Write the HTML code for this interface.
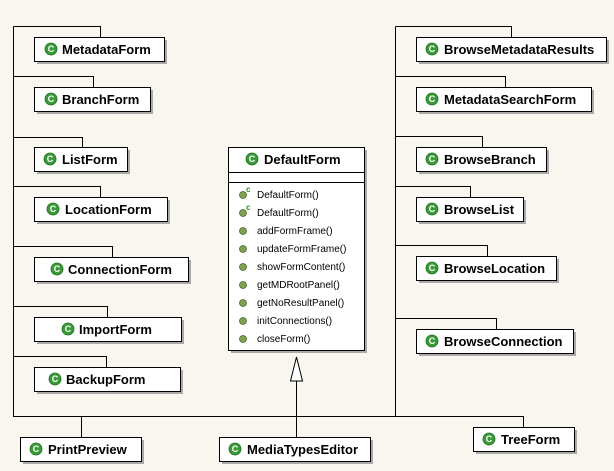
<!DOCTYPE html>
<html><head><style>
html,body{margin:0;padding:0;background:#f8f6ee;}
svg{display:block;}
.c{font-family:"Liberation Sans",sans-serif;font-weight:bold;font-size:13px;fill:#000;}
.m{font-family:"Liberation Sans",sans-serif;font-size:10px;fill:#000;}
.ic{font-family:"Liberation Sans",sans-serif;font-weight:bold;font-size:9px;fill:#fff;}
</style></head><body>
<svg width="614" height="471" viewBox="0 0 614 471" xmlns="http://www.w3.org/2000/svg">
<rect width="614" height="471" fill="#f8f6ee"/>
<g stroke="#000" stroke-width="1" fill="none" shape-rendering="crispEdges">
<path d="M13.5 26.5V416.5H523.5V427"/>
<path d="M13.5 26.5H100.5V37"/>
<path d="M13.5 76.5H93.5V87"/>
<path d="M13.5 137.5H82.5V147"/>
<path d="M13.5 186.5H100.5V197"/>
<path d="M13.5 246.5H112.5V257"/>
<path d="M13.5 306.5H107.5V317"/>
<path d="M13.5 356.5H106.5V367"/>
<path d="M81.5 416.5V437"/>
<path d="M296.5 381V437"/>
<path d="M395.5 26.5V416.5"/>
<path d="M395.5 26.5H511.5V37"/>
<path d="M395.5 76.5H505.5V87"/>
<path d="M395.5 136.5H482.5V147"/>
<path d="M395.5 186.5H470.5V197"/>
<path d="M395.5 245.5H487.5V256"/>
<path d="M395.5 318.5H496.5V329"/>
</g>
<polygon points="296.5,357 290.5,381 302.5,381" fill="#fff" stroke="#000"/>
<defs>
<g id="ci"><circle r="6" fill="#3a9a3a" stroke="#1e6e1e" stroke-width="0.8"/><text class="ic" x="0" y="3.2" text-anchor="middle">C</text></g>
</defs>
<g fill="#aaa">
<rect x="37" y="40" width="130" height="24"/><rect x="37" y="90" width="116" height="24"/>
<rect x="37" y="150" width="93" height="24"/><rect x="37" y="200" width="133" height="24"/>
<rect x="37" y="260" width="154" height="24"/><rect x="37" y="320" width="147" height="24"/>
<rect x="37" y="370" width="146" height="24"/>
<rect x="23" y="440" width="121" height="24"/><rect x="222" y="440" width="151" height="24"/>
<rect x="476" y="430" width="101" height="24"/>
<rect x="419" y="40" width="190" height="24"/><rect x="419" y="90" width="175" height="24"/>
<rect x="419" y="150" width="130" height="24"/><rect x="419" y="200" width="107" height="24"/>
<rect x="419" y="259" width="140" height="24"/><rect x="419" y="332" width="157" height="24"/>
<rect x="231" y="150" width="136" height="203"/>
</g>
<g fill="#fff" stroke="#000" shape-rendering="crispEdges">
<rect x="34.5" y="37.5" width="130" height="24"/><rect x="34.5" y="87.5" width="116" height="24"/>
<rect x="34.5" y="147.5" width="93" height="24"/><rect x="34.5" y="197.5" width="133" height="24"/>
<rect x="34.5" y="257.5" width="154" height="24"/><rect x="34.5" y="317.5" width="147" height="24"/>
<rect x="34.5" y="367.5" width="146" height="24"/>
<rect x="20.5" y="437.5" width="121" height="24"/><rect x="219.5" y="437.5" width="151" height="24"/>
<rect x="473.5" y="427.5" width="101" height="24"/>
<rect x="416.5" y="37.5" width="190" height="24"/><rect x="416.5" y="87.5" width="175" height="24"/>
<rect x="416.5" y="147.5" width="130" height="24"/><rect x="416.5" y="197.5" width="107" height="24"/>
<rect x="416.5" y="256.5" width="140" height="24"/><rect x="416.5" y="329.5" width="157" height="24"/>
<rect x="228.5" y="147.5" width="136" height="203"/>
<path d="M228.5 172.5H364.5M228.5 182.5H364.5" fill="none"/>
</g>
<use href="#ci" x="51" y="49"/><text class="c" x="62" y="54">MetadataForm</text>
<use href="#ci" x="51" y="99"/><text class="c" x="62" y="104">BranchForm</text>
<use href="#ci" x="50" y="159"/><text class="c" x="62" y="164">ListForm</text>
<use href="#ci" x="53" y="209"/><text class="c" x="65" y="214">LocationForm</text>
<use href="#ci" x="57" y="269"/><text class="c" x="68" y="274">ConnectionForm</text>
<use href="#ci" x="68" y="329"/><text class="c" x="79" y="334">ImportForm</text>
<use href="#ci" x="55" y="379"/><text class="c" x="66" y="384">BackupForm</text>
<use href="#ci" x="36" y="449"/><text class="c" x="48" y="454">PrintPreview</text>
<use href="#ci" x="235" y="449"/><text class="c" x="247" y="454">MediaTypesEditor</text>
<use href="#ci" x="489" y="439"/><text class="c" x="501" y="444">TreeForm</text>
<use href="#ci" x="432" y="49"/><text class="c" x="444" y="54">BrowseMetadataResults</text>
<use href="#ci" x="432" y="99"/><text class="c" x="444" y="104">MetadataSearchForm</text>
<use href="#ci" x="432" y="159"/><text class="c" x="444" y="164">BrowseBranch</text>
<use href="#ci" x="432" y="209"/><text class="c" x="444" y="214">BrowseList</text>
<use href="#ci" x="432" y="268"/><text class="c" x="444" y="273">BrowseLocation</text>
<use href="#ci" x="432" y="341"/><text class="c" x="444" y="346">BrowseConnection</text>
<use href="#ci" x="252" y="159"/><text class="c" x="264" y="164">DefaultForm</text>
<g fill="#7fa050" stroke="#4a6a2a" stroke-width="0.8">
<circle cx="243" cy="195" r="3.5"/><circle cx="243" cy="213" r="3.5"/>
<circle cx="243" cy="231" r="3.5"/><circle cx="243" cy="249" r="3.5"/>
<circle cx="243" cy="267" r="3.5"/><circle cx="243" cy="285" r="3.5"/>
<circle cx="243" cy="303" r="3.5"/><circle cx="243" cy="321" r="3.5"/>
<circle cx="243" cy="339" r="3.5"/>
</g>
<text x="246" y="192" font-family="Liberation Sans,sans-serif" font-weight="bold" font-size="8" fill="#2a8a2a">c</text>
<text x="246" y="210" font-family="Liberation Sans,sans-serif" font-weight="bold" font-size="8" fill="#2a8a2a">c</text>
<text class="m" x="257" y="198">DefaultForm()</text>
<text class="m" x="257" y="216">DefaultForm()</text>
<text class="m" x="257" y="234">addFormFrame()</text>
<text class="m" x="257" y="252">updateFormFrame()</text>
<text class="m" x="257" y="270">showFormContent()</text>
<text class="m" x="257" y="288">getMDRootPanel()</text>
<text class="m" x="257" y="306">getNoResultPanel()</text>
<text class="m" x="257" y="324">initConnections()</text>
<text class="m" x="257" y="342">closeForm()</text>
</svg>
</body></html>
